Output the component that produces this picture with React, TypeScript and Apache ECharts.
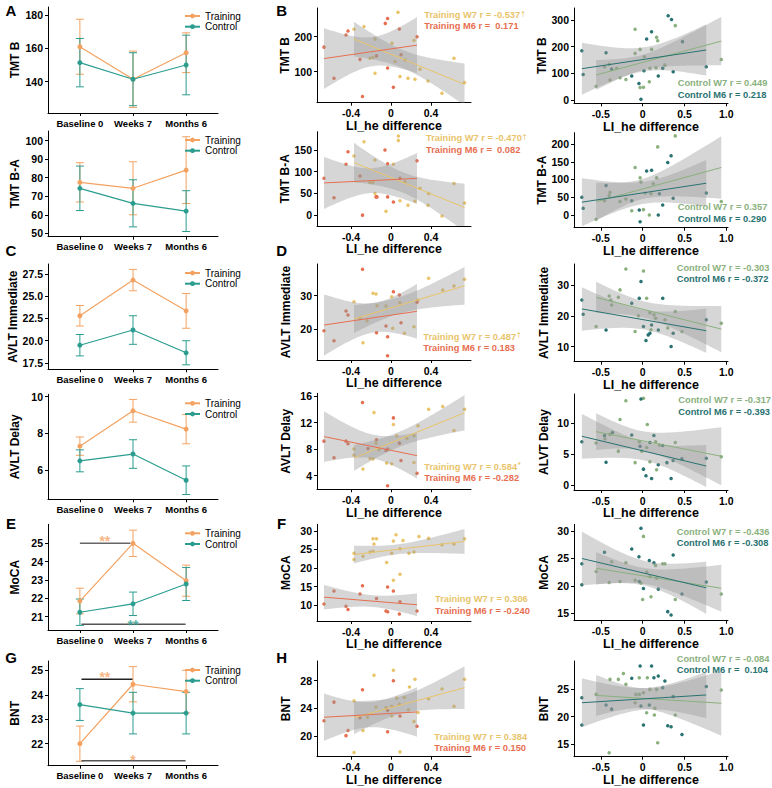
import React, { useEffect, useRef } from "react";
import * as echarts from "echarts";

const FONT = '"Liberation Sans", Arial, Helvetica, sans-serif';
const C_TRAIN = "#F4A261";
const C_CTRL = "#2A9D8F";
const C_TW7 = "#E9C46A";
const C_TM6 = "#E76F51";
const C_CW7 = "#8AB17D";
const C_CM6 = "#287271";
const BAND = "rgba(153,153,153,0.4)";

// ---------- Left column: group means and standard errors ----------
const timepoints = ["Baseline 0", "Weeks 7", "Months 6"];
const timeIndex = [0, 1, 2];

const tmtBTrainMean = [161, 141.4, 157.4];
const tmtBTrainSE = [16.6, 17, 12];
const tmtBCtrlMean = [151.4, 141.4, 150];
const tmtBCtrlSE = [14.6, 16, 18];

const tmtBATrainMean = [77.5, 74.3, 84.1];
const tmtBATrainSE = [10.6, 14.3, 18];
const tmtBACtrlMean = [74.3, 66.2, 62];
const tmtBACtrlSE = [12, 12.7, 11];

const avltITrainMean = [22.8, 26.8, 23.35];
const avltITrainSE = [1.15, 1.2, 1.95];
const avltICtrlMean = [19.5, 21.2, 18.65];
const avltICtrlSE = [1.2, 1.6, 1.35];

const avltDTrainMean = [7.3, 9.23, 8.23];
const avltDTrainSE = [0.5, 0.62, 0.8];
const avltDCtrlMean = [6.5, 6.87, 5.44];
const avltDCtrlSE = [0.6, 0.78, 0.78];

const mocaTrainMean = [21.85, 25.0, 22.96];
const mocaTrainSE = [0.7, 0.72, 0.85];
const mocaCtrlMean = [21.24, 21.7, 22.78];
const mocaCtrlSE = [0.72, 0.64, 0.9];

const bntTrainMean = [22.0, 24.43, 24.13];
const bntTrainSE = [0.72, 0.72, 0.87];
const bntCtrlMean = [23.6, 23.25, 23.25];
const bntCtrlSE = [0.65, 0.85, 0.85];

// significance brackets: [x0, x1, y, textX, textY, label, textColor, lineColor]
const mocaSig = [
  [0, 0.95, 25.0, 0.47, 25.13, "**", C_TRAIN, "#666666"],
  [0.03, 1.99, 20.58, 1.0, 20.53, "**", C_CTRL, "#555555"],
];
const bntSig = [
  [0.03, 0.99, 24.63, 0.47, 24.71, "**", C_TRAIN, "#222222"],
  [0.03, 1.99, 21.3, 1.0, 21.35, "*", C_TRAIN, "#555555"],
];

// ---------- Scatter data: [LI_he difference, score] ----------
const tmtB_TW7 = [[-0.37,221],[-0.27,229],[-0.21,138],[-0.18,141],[-0.16,193],[-0.16,95],[0.01,181],[0.04,129],[0.07,270],[0.09,86],[0.14,133],[0.17,81],[0.23,190],[0.24,78],[0.29,107],[0.37,73],[0.51,38],[0.63,138],[0.735,69]];
const tmtB_TM6 = [[-0.67,170],[-0.57,81],[-0.45,205],[-0.43,216],[-0.31,135],[-0.285,29],[-0.145,145],[-0.057,238],[-0.034,252],[-0.034,110],[0.024,55],[0.084,222],[0.1,148],[0.26,200]];
const tmtB_CW7 = [[-0.556,52],[-0.456,125],[-0.4,134],[-0.39,75],[-0.31,119],[-0.27,84],[-0.2,77],[-0.09,265],[-0.09,175],[-0.03,47],[0.01,48],[-0.03,190],[0.02,162],[0.08,69],[0.107,190],[0.087,119],[0.167,235],[0.18,222],[0.16,121],[0.266,131],[0.39,279],[0.94,152]];
const tmtB_CM6 = [[-0.726,185],[-0.71,96],[-0.437,177],[-0.37,116],[-0.13,90],[-0.044,62],[-0.02,3],[0.016,110],[0.048,229],[0.107,256],[0.187,90],[0.24,119],[0.305,316],[0.345,302],[0.365,106],[0.476,219],[0.76,125]];

const tmtBA_TW7 = [[-0.37,136],[-0.27,169],[-0.21,75],[-0.18,75],[-0.16,127],[-0.16,50],[-0.05,9],[0.024,117],[0.074,182],[0.074,172],[0.09,33],[0.14,77],[0.17,23],[0.24,32],[0.29,62],[0.37,23],[0.376,50],[0.51,-2],[0.63,73],[0.735,28]];
const tmtBA_TM6 = [[-0.67,85],[-0.57,40],[-0.45,117],[-0.43,146],[-0.31,90],[-0.285,0],[-0.15,42],[-0.14,42],[-0.06,150],[-0.034,118],[-0.034,42],[0.024,30],[0.09,85],[0.26,125]];
const tmtBA_CW7 = [[-0.556,-12],[-0.456,40],[-0.39,64],[-0.4,55],[-0.27,38],[-0.2,45],[-0.13,12],[-0.09,134],[-0.03,105],[-0.02,93],[0.01,15],[0.03,62],[0.08,0],[0.1,60],[0.127,88],[0.167,105],[0.18,192],[0.39,223],[0.94,38]];
const tmtBA_CM6 = [[-0.726,50],[-0.71,19],[-0.437,83],[-0.13,40],[-0.04,14],[-0.03,-19],[0.048,124],[0.107,126],[0.187,0],[0.2,60],[0.24,28],[0.3,148],[0.34,167],[0.365,47],[0.76,62]];

const avltI_TW7 = [[-0.37,28.2],[-0.31,23.2],[-0.28,15.9],[-0.24,22.5],[-0.18,30.7],[-0.15,30.5],[-0.14,27],[-0.05,26.9],[0.007,29.7],[0.017,20.2],[0.09,27.9],[0.134,18.7],[0.23,20.7],[0.27,28.7],[0.376,35.2],[0.517,31.7],[0.63,32.9],[0.735,34.9]];
const avltI_TM6 = [[-0.67,19.5],[-0.57,16.5],[-0.45,25.4],[-0.43,24.2],[-0.285,37.9],[-0.145,18.9],[-0.05,20.9],[-0.034,17.7],[-0.034,12],[0.024,31.2],[0.084,30.2],[0.1,21.9],[0.26,28]];
const avltI_CW7 = [[-0.556,16.5],[-0.4,26.4],[-0.38,25.1],[-0.37,23.5],[-0.29,26],[-0.27,28.4],[-0.2,35.2],[-0.09,14.9],[-0.05,20],[0.01,34.5],[0.048,25.7],[0.087,21],[0.1,15.5],[0.135,20.3],[0.155,19.2],[0.266,18.7],[0.3,16],[0.39,21.4],[0.47,14.9],[0.94,17.6]];
const avltI_CM6 = [[-0.726,25.1],[-0.71,20.5],[-0.437,15.4],[-0.13,24.1],[-0.04,25.7],[-0.02,31.1],[0.01,16.5],[0.04,12],[0.067,13.8],[0.087,14.3],[0.107,17],[0.187,15.4],[0.24,25.7],[0.34,10],[0.365,14.3],[0.76,18.7]];

const avltD_TW7 = [[-0.37,8],[-0.37,7.1],[-0.28,5],[-0.21,6.6],[-0.18,6.5],[-0.17,13.5],[-0.15,8.9],[-0.12,7.9],[-0.044,5.9],[0.007,5.8],[0.024,11.7],[0.057,10],[0.16,9.6],[0.23,10],[0.23,6],[0.27,11.5],[0.376,14],[0.517,14.4],[0.63,10.8],[0.735,14]];
const avltD_TM6 = [[-0.67,9.2],[-0.57,6.7],[-0.45,9.2],[-0.43,8.8],[-0.285,15],[-0.23,8.1],[-0.145,9.4],[-0.05,7.8],[-0.034,8],[-0.034,2.5],[0.024,12.7],[0.084,8.9],[0.1,6.3],[0.26,4.35]];
const avltD_CW7 = [[-0.556,6.8],[-0.45,7.5],[-0.39,8.2],[-0.29,5.5],[-0.27,10.6],[-0.2,13.6],[-0.09,3.65],[-0.04,7],[-0.01,5.5],[0.01,14],[0.048,6.1],[0.056,9.8],[0.087,3.8],[0.155,7],[0.167,2.5],[0.2,6.5],[0.39,6.9],[0.94,4.6]];
const avltD_CM6 = [[-0.726,7],[-0.456,8],[-0.437,3.7],[-0.36,8.5],[-0.13,8.1],[-0.03,6.3],[-0.02,13.9],[0.01,2.6],[0.04,1.55],[0.087,6.9],[0.107,1.1],[0.135,8],[0.187,3.3],[0.24,6.4],[0.29,3.65],[0.34,1.1],[0.365,4],[0.47,4.25],[0.76,4.35]];

const moca_TW7 = [[-0.37,24],[-0.37,22.3],[-0.28,23.2],[-0.21,24.3],[-0.18,24.5],[-0.18,27.9],[-0.17,26.5],[-0.145,27.9],[-0.044,21.5],[0.007,24],[0.024,27.3],[0.024,16.7],[0.05,29],[0.09,25.2],[0.09,18.3],[0.12,27.4],[0.18,24],[0.23,24.3],[0.28,28.5],[0.376,28],[0.51,26.3],[0.63,26.5],[0.735,27.9]];
const moca_TM6 = [[-0.67,10.3],[-0.57,13.8],[-0.45,9.7],[-0.43,8.8],[-0.31,13],[-0.285,15.2],[-0.145,11.8],[-0.05,8.4],[-0.034,8.2],[-0.034,14.9],[0.024,13.8],[0.084,7.6],[0.09,10.9],[0.26,8.4]];
const moca_CW7 = [[-0.556,22.6],[-0.4,20.6],[-0.37,24.4],[-0.27,20.8],[-0.2,24.2],[-0.09,21],[-0.02,20.5],[0,17.5],[0.01,29],[0.05,22.5],[0.087,21.7],[0.1,18],[0.155,23.7],[0.167,21.4],[0.24,24],[0.266,24],[0.39,17.5],[0.94,18.5]];
const moca_CM6 = [[-0.726,24],[-0.726,20.2],[-0.456,26.1],[-0.13,26.7],[-0.044,25.3],[-0.04,20.8],[-0.02,30.5],[0.01,19.5],[0.08,24.6],[0.135,24.2],[0.187,19.4],[0.3,15.3],[0.34,14.7],[0.365,25.6],[0.47,18.5],[0.76,20.7]];

const bnt_TW7 = [[-0.37,25.1],[-0.37,17.6],[-0.28,20.8],[-0.235,22.7],[-0.17,28.8],[-0.15,24.2],[-0.05,24.1],[0.007,24.3],[0.007,22.9],[0.024,29.5],[0.057,25.5],[0.084,24.6],[0.09,17.7],[0.134,25.6],[0.175,23.8],[0.185,27.1],[0.23,22.1],[0.24,28.2],[0.27,23.4],[0.376,25.4],[0.51,26.8],[0.63,24.3],[0.735,28.2]];
const bnt_TM6 = [[-0.67,22.2],[-0.57,24.9],[-0.45,20.05],[-0.43,20.8],[-0.31,22.65],[-0.285,26.7],[-0.034,23.7],[-0.034,20.6],[0.024,28],[0.09,22.9],[0.26,21.4]];
const bnt_CW7 = [[-0.556,24],[-0.4,13.5],[-0.39,26.7],[-0.29,26.7],[-0.23,27.75],[-0.2,25.8],[-0.09,22.5],[-0.08,24],[-0.04,27],[-0.04,24],[0.01,24.3],[0.048,20.7],[0.056,27],[0.087,24.9],[0.14,20.3],[0.147,21.5],[0.167,24.9],[0.18,15.3],[0.39,20.3],[0.94,24.8]];
const bnt_CM6 = [[-0.726,23.4],[-0.726,18.5],[-0.437,22.1],[-0.37,21.35],[-0.13,26.9],[-0.03,29.1],[-0.02,21.9],[0.01,18.5],[0.08,22.1],[0.107,29.1],[0.135,27],[0.187,27.3],[0.24,25.2],[0.266,26.4],[0.3,18.35],[0.34,18.2],[0.365,23.6],[0.47,16.8],[0.76,25.4]];

// correlation labels
const rTW7 = ["-0.537†", "-0.470†", "0.487†", "0.584*", "0.306", "0.384"];
const rTM6 = [" 0.171", " 0.082", "0.183", "-0.282", "-0.240", "0.150"];
const rCW7 = ["0.449", "0.357", "-0.303", "-0.317", "-0.436", "-0.084"];
const rCM6 = ["0.218", "0.290", "-0.372", "-0.393", "-0.308", " 0.104"];

const midTicksX = [-0.4, 0, 0.4];
const rightTicksX = [-0.5, 0, 0.5, 1.0];

// ---------- helpers ----------
function tq(df: number) {
  return 1.959964 + 2.37 / df + 2.82 / (df * df) + 2.56 / (df * df * df);
}
function linFit(pts: number[][]) {
  const n = pts.length;
  const mx = pts.reduce((s, p) => s + p[0], 0) / n;
  const my = pts.reduce((s, p) => s + p[1], 0) / n;
  let sxx = 0, sxy = 0;
  pts.forEach((p) => { sxx += (p[0] - mx) ** 2; sxy += (p[0] - mx) * (p[1] - my); });
  const b = sxy / sxx;
  const a = my - b * mx;
  let sse = 0;
  pts.forEach((p) => { sse += (p[1] - a - b * p[0]) ** 2; });
  const s2 = sse / (n - 2);
  const t = tq(n - 2);
  const xmin = Math.min(...pts.map((p) => p[0]));
  const xmax = Math.max(...pts.map((p) => p[0]));
  const band: number[][] = [];
  const N = 60;
  for (let i = 0; i <= N; i++) {
    const x = xmin + ((xmax - xmin) * i) / N;
    const yh = a + b * x;
    const se = Math.sqrt(s2 * (1 / n + (x - mx) ** 2 / sxx));
    band.push([x, yh - t * se, yh + t * se]);
  }
  return { line: [[xmin, a + b * xmin], [xmax, a + b * xmax]], band };
}

function buildOption() {
  const grids: any[] = [];
  const xAxes: any[] = [];
  const yAxes: any[] = [];
  const series: any[] = [];
  const legends: any[] = [];
  const graphics: any[] = [];

  const axisLineStyle = { show: true, onZero: false, lineStyle: { color: "#000", width: 1 } };
  const tickStyle = (vals: number[]) => ({ show: true, length: 3, customValues: vals, lineStyle: { color: "#000", width: 1 } });
  const labelBase = { color: "#000", fontFamily: FONT, fontWeight: "bold", fontSize: 10.5 };
  const nameStyle = { color: "#000", fontFamily: FONT, fontWeight: "bold", fontSize: 12 };

  // ----- left panels -----
  const leftPanels = [
    { label: "TMT B", top: 7, h: 106, min: 121, max: 185, ticks: [140, 160, 180], dec: 0, tm: tmtBTrainMean, ts: tmtBTrainSE, cm: tmtBCtrlMean, cs: tmtBCtrlSE, sig: [] as any[] },
    { label: "TMT B-A", top: 131, h: 105.7, min: 48.2, max: 105.2, ticks: [50, 60, 70, 80, 90, 100], dec: 0, tm: tmtBATrainMean, ts: tmtBATrainSE, cm: tmtBACtrlMean, cs: tmtBACtrlSE, sig: [] as any[] },
    { label: "AVLT Immediate", top: 264, h: 105.3, min: 16.8, max: 28.6, ticks: [17.5, 20, 22.5, 25, 27.5], dec: 1, tm: avltITrainMean, ts: avltITrainSE, cm: avltICtrlMean, cs: avltICtrlSE, sig: [] as any[] },
    { label: "AVLT Delay", top: 394.3, h: 105, min: 4.4, max: 10.13, ticks: [6, 8, 10], dec: 0, tm: avltDTrainMean, ts: avltDTrainSE, cm: avltDCtrlMean, cs: avltDCtrlSE, sig: [] as any[] },
    { label: "MoCA", top: 524.3, h: 105.7, min: 20.27, max: 26.04, ticks: [21, 22, 23, 24, 25], dec: 0, tm: mocaTrainMean, ts: mocaTrainSE, cm: mocaCtrlMean, cs: mocaCtrlSE, sig: mocaSig },
    { label: "BNT", top: 661, h: 104.7, min: 21.1, max: 25.38, ticks: [22, 23, 24, 25], dec: 0, tm: bntTrainMean, ts: bntTrainSE, cm: bntCtrlMean, cs: bntCtrlSE, sig: bntSig },
  ];

  const errRender = (color: string) => (params: any, api: any) => {
    const x = api.value(0), lo = api.value(1), hi = api.value(2);
    const t = api.coord([x, hi]);
    const b = api.coord([x, lo]);
    const w = 4;
    const st = { stroke: color, lineWidth: 1 };
    return {
      type: "group",
      children: [
        { type: "line", shape: { x1: t[0], y1: t[1], x2: b[0], y2: b[1] }, style: st },
        { type: "line", shape: { x1: t[0] - w, y1: t[1], x2: t[0] + w, y2: t[1] }, style: st },
        { type: "line", shape: { x1: b[0] - w, y1: b[1], x2: b[0] + w, y2: b[1] }, style: st },
      ],
    };
  };

  leftPanels.forEach((p) => {
    const gi = grids.length;
    grids.push({ left: 48, top: p.top, width: 170, height: p.h, outerBoundsMode: "none" });
    xAxes.push({
      gridIndex: gi, type: "value", min: -0.6, max: 2.6,
      axisLine: axisLineStyle, axisTick: tickStyle(timeIndex), splitLine: { show: false },
      axisLabel: { ...labelBase, fontSize: 9.5, margin: 5, customValues: timeIndex, formatter: (v: number) => timepoints[Math.round(v)] ?? "" },
    });
    yAxes.push({
      gridIndex: gi, type: "value", min: p.min, max: p.max,
      name: p.label, nameLocation: "middle", nameGap: 27, nameTextStyle: nameStyle,
      axisLine: axisLineStyle, axisTick: tickStyle(p.ticks), splitLine: { show: false },
      axisLabel: { ...labelBase, margin: 5, customValues: p.ticks, formatter: (v: number) => v.toFixed(p.dec) },
    });
    const groups = [
      { name: "Training", m: p.tm, s: p.ts, c: C_TRAIN },
      { name: "Control", m: p.cm, s: p.cs, c: C_CTRL },
    ];
    groups.forEach((g) => {
      series.push({
        type: "custom", name: g.name + "-err", xAxisIndex: gi, yAxisIndex: gi, z: 2, silent: true,
        data: timeIndex.map((t) => [t, g.m[t] - g.s[t], g.m[t] + g.s[t]]),
        renderItem: errRender(g.c),
      });
      series.push({
        type: "line", name: g.name, xAxisIndex: gi, yAxisIndex: gi, z: 3,
        data: timeIndex.map((t) => [t, g.m[t]]),
        symbol: "circle", symbolSize: 5, itemStyle: { color: g.c }, lineStyle: { color: g.c, width: 1.2 },
      });
    });
    p.sig.forEach((s: any[]) => {
      series.push({
        type: "line", name: "sig", xAxisIndex: gi, yAxisIndex: gi, z: 4, silent: true,
        data: [[s[0], s[2]], [s[1], s[2]]], symbol: "none", lineStyle: { color: s[7], width: 1.5 },
      });
      series.push({
        type: "scatter", name: "sigtext", xAxisIndex: gi, yAxisIndex: gi, z: 5, silent: true,
        data: [[s[3], s[4]]], symbolSize: 0,
        label: { show: true, position: "inside", formatter: s[5], color: s[6], fontSize: 14, fontWeight: "bold", fontFamily: FONT },
      });
    });
    const legBase = {
      left: 184, orient: "vertical", padding: 0, itemGap: 0,
      itemWidth: 15, itemHeight: 6, selectedMode: false,
      textStyle: { fontSize: 10, fontFamily: FONT, color: "#000", lineHeight: 10 },
    };
    legends.push({ ...legBase, data: ["Training"], top: p.top + 9 - 5 });
    legends.push({ ...legBase, data: ["Control"], top: p.top + 19.7 - 5 });
  });

  // ----- scatter panels -----
  const scatterRows = [
    { name: "TMT B", nameR: "TMT B", mid: { top: 8, h: 94.7, min: 11, max: 282, ticks: [100, 200] }, right: { top: 8, h: 95.3, min: -12, max: 345, ticks: [0, 100, 200, 300] }, d: [tmtB_TW7, tmtB_TM6, tmtB_CW7, tmtB_CM6] },
    { name: "TMT B-A", nameR: "TMT B-A", mid: { top: 131.7, h: 94.3, min: -25, max: 192, ticks: [0, 50, 100, 150] }, right: { top: 132.7, h: 95, min: -36, max: 232, ticks: [0, 50, 100, 150, 200] }, d: [tmtBA_TW7, tmtBA_TM6, tmtBA_CW7, tmtBA_CM6] },
    { name: "AVLT Immediate", nameR: "AVLT Immediate", mid: { top: 264, h: 96, min: 10.7, max: 39.5, ticks: [20, 30] }, right: { top: 264, h: 97.7, min: 5.1, max: 36.8, ticks: [10, 20, 30] }, d: [avltI_TW7, avltI_TM6, avltI_CW7, avltI_CM6] },
    { name: "AVLT Delay", nameR: "ALVT Delay", mid: { top: 393.3, h: 96, min: 1.95, max: 16.4, ticks: [4, 8, 12, 16] }, right: { top: 394, h: 96, min: -0.76, max: 14.7, ticks: [0, 5, 10] }, d: [avltD_TW7, avltD_TM6, avltD_CW7, avltD_CM6] },
    { name: "MoCA", nameR: "MoCA", mid: { top: 524.3, h: 96.7, min: 5.7, max: 31.8, ticks: [10, 15, 20, 25, 30] }, right: { top: 524.3, h: 96.4, min: 13.65, max: 31.2, ticks: [15, 20, 25, 30] }, d: [moca_TW7, moca_TM6, moca_CW7, moca_CM6] },
    { name: "BNT", nameR: "BNT", mid: { top: 661, h: 95.7, min: 17, max: 30.85, ticks: [20, 24, 28] }, right: { top: 661, h: 95.7, min: 12.8, max: 30, ticks: [15, 20, 25] }, d: [bnt_TW7, bnt_TM6, bnt_CW7, bnt_CM6] },
  ];
  const annMid = [[424.3, 15, 25.7], [426, 138.3, 149.7], [423.3, 336.7, 348], [424.3, 466.7, 477.7], [435, 599.3, 610.7], [434.3, 737.3, 748.3]];
  const annRight = [[677.7, 83.3, 95], [677.7, 207.3, 218.7], [676.7, 268.3, 279.3], [678.3, 400, 412.3], [676.7, 532.3, 543.3], [676.7, 659, 670]];

  const annText = (x: number, y: number, prefix: string, val: string, color: string) => {
    const m = val.match(/^(.*?)([†*]?)$/) as RegExpMatchArray;
    const main = prefix + m[1];
    const sup = m[2];
    const text = sup ? `{m|${main}}{s|${sup}}` : `{m|${main}}`;
    graphics.push({
      type: "text", x, y, silent: true,
      style: {
        text, fill: color, textAlign: "left", textVerticalAlign: "middle",
        rich: {
          m: { fontSize: 9.3, fontWeight: "bold", fontFamily: FONT, fill: color, lineHeight: 11 },
          s: { fontSize: 6.5, fontWeight: "bold", fontFamily: FONT, fill: color, verticalAlign: "top", lineHeight: 7, padding: [0, 0, 0, 1] },
        },
      },
    });
  };

  scatterRows.forEach((r, ri) => {
    [0, 1].forEach((c) => {
      const cfg = c === 0 ? r.mid : r.right;
      const gi = grids.length;
      const left = c === 0 ? 317 : 574;
      grids.push({ left, top: cfg.top, width: 154, height: cfg.h, outerBoundsMode: "none" });
      const xt = c === 0 ? midTicksX : rightTicksX;
      xAxes.push({
        gridIndex: gi, type: "value", min: c === 0 ? -0.74 : -0.82, max: c === 0 ? 0.8 : 1.02,
        name: "LI_he difference", nameLocation: "middle", nameGap: 14,
        nameTextStyle: { ...nameStyle, fontSize: 12.5 },
        axisLine: axisLineStyle, axisTick: tickStyle(xt), splitLine: { show: false },
        axisLabel: { ...labelBase, margin: 5, customValues: xt, formatter: (v: number) => (Math.abs(v) < 1e-9 ? "0" : v.toFixed(1)) },
      });
      yAxes.push({
        gridIndex: gi, type: "value", min: cfg.min, max: cfg.max,
        name: c === 0 ? r.name : r.nameR, nameLocation: "middle", nameGap: c === 0 ? 25 : 24, nameTextStyle: nameStyle,
        axisLine: axisLineStyle, axisTick: tickStyle(cfg.ticks), splitLine: { show: false },
        axisLabel: { ...labelBase, margin: 5, customValues: cfg.ticks, formatter: (v: number) => String(v) },
      });
      const groups = c === 0
        ? [{ pts: r.d[0], col: C_TW7 }, { pts: r.d[1], col: C_TM6 }]
        : [{ pts: r.d[2], col: C_CW7 }, { pts: r.d[3], col: C_CM6 }];
      groups.forEach((g, k) => {
        const f = linFit(g.pts);
        series.push({
          type: "scatter", name: "pts" + k, xAxisIndex: gi, yAxisIndex: gi, z: 2, silent: true,
          data: g.pts, symbolSize: 3.5, itemStyle: { color: g.col, opacity: 1 },
        });
        const band = f.band;
        series.push({
          type: "custom", name: "band" + k, xAxisIndex: gi, yAxisIndex: gi, z: 3, silent: true, clip: true,
          data: band,
          renderItem: (params: any, api: any) => {
            if (params.dataIndex !== 0) return null;
            const up = band.map((b) => api.coord([b[0], b[2]]));
            const lo = band.slice().reverse().map((b) => api.coord([b[0], b[1]]));
            return { type: "polygon", shape: { points: up.concat(lo) }, style: { fill: BAND } };
          },
        });
        series.push({
          type: "line", name: "fit" + k, xAxisIndex: gi, yAxisIndex: gi, z: 4, silent: true,
          data: f.line, symbol: "none", lineStyle: { color: g.col, width: 1 },
        });
      });
    });
    const am = annMid[ri];
    annText(am[0], am[1], "Training W7 r = ", rTW7[ri], C_TW7);
    annText(am[0], am[2], "Training M6 r = ", rTM6[ri], C_TM6);
    const ar = annRight[ri];
    annText(ar[0], ar[1], "Control W7 r = ", rCW7[ri], C_CW7);
    annText(ar[0], ar[2], "Control M6 r = ", rCM6[ri], C_CM6);
  });

  // panel letters
  const letters = [["A", 11, 10], ["B", 281.7, 10], ["C", 11, 250.5], ["D", 281.7, 250], ["E", 11, 523], ["F", 281.7, 523], ["G", 11, 657], ["H", 281.7, 657]];
  letters.forEach((l) => {
    graphics.push({
      type: "text", x: l[1], y: l[2], silent: true,
      style: { text: l[0], fill: "#000", font: `bold 15px ${FONT}`, textAlign: "center", textVerticalAlign: "middle" },
    });
  });

  return {
    animation: false,
    backgroundColor: "#ffffff",
    grid: grids,
    xAxis: xAxes,
    yAxis: yAxes,
    legend: legends,
    series,
    graphic: graphics,
  };
}

export default function App() {
  const ref = useRef<HTMLDivElement>(null);
  useEffect(() => {
    const chart = echarts.init(ref.current as HTMLDivElement, null, { renderer: "svg" });
    chart.setOption(buildOption() as any);
    return () => chart.dispose();
  }, []);
  return (
    <div
      ref={ref}
      style={{ position: "fixed", left: 0, top: 0, width: 772, height: 788, background: "#fff" }}
    />
  );
}
